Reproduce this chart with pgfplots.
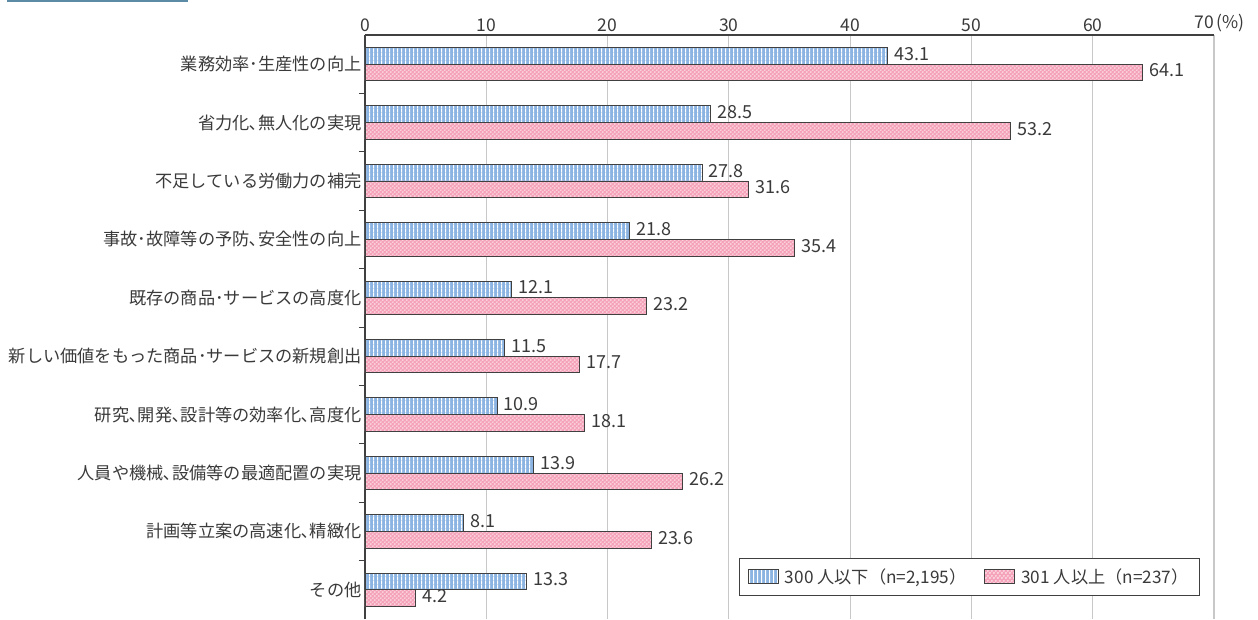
\documentclass[border=0pt]{standalone}
\usepackage{pgfplots}
\pgfplotsset{compat=1.18}
\usetikzlibrary{patterns}
\usepackage{fontspec}
\setmainfont{Noto Sans CJK JP}
\definecolor{txt}{HTML}{3A3A3A}
\definecolor{bluef}{HTML}{8CB4E2}
\definecolor{pinkf}{HTML}{F5A3BA}
\definecolor{edge}{HTML}{404040}
\definecolor{gridc}{HTML}{C8C8C8}
\definecolor{head}{HTML}{5B8BA5}
\pgfdeclarepatternformonly{vlinesw}{\pgfpointorigin}{\pgfqpoint{4pt}{4pt}}{\pgfqpoint{4pt}{4pt}}{%
  \pgfsetlinewidth{1.2pt}%
  \pgfpathmoveto{\pgfqpoint{2pt}{-0.5pt}}\pgfpathlineto{\pgfqpoint{2pt}{4.5pt}}\pgfusepath{stroke}}
\pgfdeclarepatternformonly{dotsw}{\pgfpointorigin}{\pgfqpoint{4.4pt}{4.4pt}}{\pgfqpoint{4.4pt}{4.4pt}}{%
  \pgfpathcircle{\pgfqpoint{1.1pt}{1.1pt}}{0.85pt}%
  \pgfpathcircle{\pgfqpoint{3.3pt}{3.3pt}}{0.85pt}%
  \pgfusepath{fill}}
\begin{document}
\begin{tikzpicture}[x=1pt,y=1pt]
\fill[head] (7,617) rectangle (188,619);
\begin{axis}[
  at={(365pt,0pt)}, anchor=south west,
  scale only axis, width=849pt, height=584pt,
  xmin=0, xmax=70, ymin=-0.5, ymax=9.5,
  xbar, bar width=16.7pt,
  axis x line*=top, axis y line*=left,
  axis line style={edge, line width=1.2pt},
  xtick={0,10,...,70},
  xticklabels={0,10,20,30,40,50,60,\llap{70}\rlap{\,(\%)}},
  xmajorgrids, grid style={gridc, line width=1.2pt},
  ytick={0,...,9},
  yticklabels={その他,計画等立案の高速化､精緻化,人員や機械､設備等の最適配置の実現,研究､開発､設計等の効率化､高度化,新しい価値をもった商品･サービスの新規創出,既存の商品･サービスの高度化,事故･故障等の予防､安全性の向上,不足している労働力の補完,省力化､無人化の実現,業務効率･生産性の向上},
  minor ytick={0.5,1.5,...,8.5},
  major tick length=0pt, minor tick length=6pt,
  every minor tick/.append style={edge, line width=1pt},
  tick label style={font=\fontsize{17.2}{20}\selectfont, text=txt},
  xticklabel style={font=\fontsize{17.5}{20}\selectfont},
  /pgf/number format/assume math mode=true,
  nodes near coords,
  nodes near coords style={font=\fontsize{18}{21}\selectfont, text=txt, anchor=west, xshift=3pt, yshift=2pt,
    /pgf/number format/.cd, fixed, fixed zerofill, precision=1},
  legend style={at={(rel axis cs:0.9835,0.0394)}, anchor=south east, draw=edge, line width=1pt,
    font=\fontsize{17.2}{20}\selectfont, text=txt, legend columns=2, inner xsep=9pt, inner ysep=8.5pt,
    /tikz/every odd column/.append style={column sep=4pt},
    /tikz/every even column/.append style={column sep=16pt}},
  legend image code/.code={\draw[#1] (0pt,-7pt) rectangle (30pt,7pt);},
]
\addplot[draw=edge, line width=0.9pt, fill=bluef, bar shift=8.35pt,
  postaction={pattern=vlinesw, pattern color=white}]
  coordinates {(43.1,9) (28.5,8) (27.8,7) (21.8,6) (12.1,5) (11.5,4) (10.9,3) (13.9,2) (8.1,1) (13.3,0)};
\addlegendentry{300 人以下（n=2,195）}
\addplot[draw=edge, line width=0.9pt, fill=pinkf, bar shift=-8.35pt,
  postaction={pattern=dotsw, pattern color=white}]
  coordinates {(64.1,9) (53.2,8) (31.6,7) (35.4,6) (23.2,5) (17.7,4) (18.1,3) (26.2,2) (23.6,1) (4.2,0)};
\addlegendentry{301 人以上（n=237）}
\end{axis}
\pgfresetboundingbox
\path (0,0) rectangle (1258,619);
\end{tikzpicture}
\end{document}
